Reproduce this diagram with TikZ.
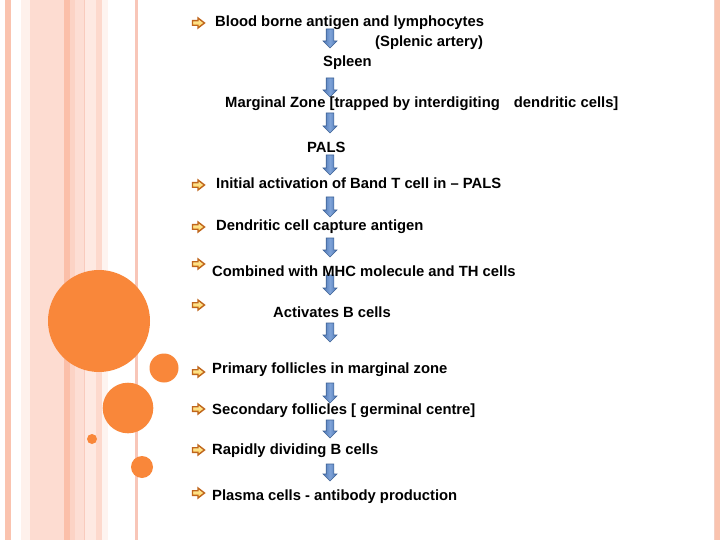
\documentclass[tikz,border=0pt]{standalone}
\usepackage{fontspec}
\setmainfont{Liberation Sans}
\definecolor{stA}{HTML}{FAC3AF}
\definecolor{stB}{HTML}{FEF1EC}
\definecolor{stC}{HTML}{FDDCD1}
\definecolor{stD}{HTML}{FBBFA9}
\definecolor{stE}{HTML}{FCD3C5}
\definecolor{stF}{HTML}{FDDED4}
\definecolor{stG}{HTML}{F9CBBD}
\definecolor{stH}{HTML}{FEE9E2}
\definecolor{stI}{HTML}{FDD9CD}
\definecolor{stJ}{HTML}{FEF4F0}
\definecolor{stK}{HTML}{F8C6B8}
\definecolor{stL}{HTML}{F4CFC4}
\definecolor{dotc}{HTML}{F9873A}
\definecolor{buledge}{HTML}{C0661C}
\definecolor{bulfill}{HTML}{FFD25A}
\definecolor{bulfillb}{HTML}{FFEFA8}
\definecolor{arrowedge}{HTML}{3F6396}
\definecolor{arrowdark}{HTML}{4C76B5}
\definecolor{arrowlight}{HTML}{7FA3D8}
\tikzset{
  lbl/.style={font=\bfseries\fontsize{14.8}{17}\selectfont, inner sep=0pt, anchor=base west, text=black},
  pics/bul/.style={code={
    \draw[buledge, line width=1.4pt, line join=miter, top color=bulfillb, bottom color=bulfill]
      (-6,-2.3) -- (-0.5,-2.3) -- (-0.5,-5) -- (6,0) -- (-0.5,5) -- (-0.5,2.3) -- (-6,2.3) -- cycle;}},
  pics/barrow/.style={code={
    \draw[arrowedge, line width=0.6pt, line join=miter, left color=arrowdark, right color=arrowdark, middle color=arrowlight]
      (-3.8,0) -- (3.8,0) -- (3.8,#1-7) -- (7,#1-7) -- (0,#1) -- (-7,#1-7) -- (-3.8,#1-7) -- cycle;}}
}
\begin{document}
\begin{tikzpicture}[x=1pt,y=-1pt]
\useasboundingbox (0,0) rectangle (720,540);
\fill[white] (0,0) rectangle (720,540);
% left stripes
\fill[stA] (5,0) rectangle (11,540);
\fill[stB] (21,0) rectangle (30,540);
\fill[stC] (30,0) rectangle (64,540);
\fill[stD] (64,0) rectangle (70,540);
\fill[stE] (70,0) rectangle (75,540);
\fill[stF] (75,0) rectangle (84,540);
\fill[stG] (84,0) rectangle (85,540);
\fill[stH] (85,0) rectangle (96,540);
\fill[stI] (96,0) rectangle (102,540);
\fill[stJ] (102,0) rectangle (108,540);
\fill[stK] (135,0) rectangle (138,540);
% right stripe
\fill[stL] (714,0) rectangle (715,540);
\fill[stA] (715,0) rectangle (720,540);
% circles
\fill[dotc] (99,321) circle (51);
\fill[dotc] (164,368) circle (14.5);
\fill[dotc] (128,408) circle (25.3);
\fill[dotc] (92,439) circle (5);
\fill[dotc] (142,467) circle (11);
% bullets
\pic (b1) at (198.5,23) {bul};
\pic (b2) at (198.5,185) {bul};
\pic (b3) at (198.5,227) {bul};
\pic (b4) at (198.5,264) {bul};
\pic (b5) at (198.5,305) {bul};
\pic (b6) at (198.5,372) {bul};
\pic (b7) at (198.5,409) {bul};
\pic (b8) at (198.5,450) {bul};
\pic (b9) at (198.5,493) {bul};
% blue down arrows
\pic (a1) at (330,29) {barrow=19};
\pic (a2) at (330,78) {barrow=19};
\pic (a3) at (330,113) {barrow=20};
\pic (a4) at (330,155) {barrow=20};
\pic (a5) at (330,197) {barrow=20};
\pic (a6) at (330,238) {barrow=19};
\pic (a7) at (330,275) {barrow=20};
\pic (a8) at (330,323) {barrow=19};
\pic (a9) at (330,383) {barrow=20};
\pic (a10) at (330,420) {barrow=18};
\pic (a11) at (330,464) {barrow=17};
% texts
\node[lbl] (t1) at (215,26.5) {Blood borne antigen and lymphocytes};
\node[lbl] (t2) at (375,47) {(Splenic artery)};
\node[lbl] (t3) at (323,67) {Spleen};
\node[lbl] (t4) at (225,108) {Marginal Zone [trapped by interdigiting\hspace{10pt} dendritic cells]};
\node[lbl] (t5) at (307,153) {PALS};
\node[lbl] (t6) at (216,189) {Initial activation of Band T cell in – PALS};
\node[lbl] (t7) at (216,230) {Dendritic cell capture antigen};
\node[lbl] (t8) at (212,276) {Combined with MHC molecule and TH cells};
\node[lbl] (t9) at (273,317) {Activates B cells};
\node[lbl] (t10) at (212,373) {Primary follicles in marginal zone};
\node[lbl] (t11) at (212,414) {Secondary follicles [ germinal centre]};
\node[lbl] (t12) at (212,454) {Rapidly dividing B cells};
\node[lbl] (t13) at (212,500) {Plasma cells - antibody production};
\end{tikzpicture}
\end{document}
